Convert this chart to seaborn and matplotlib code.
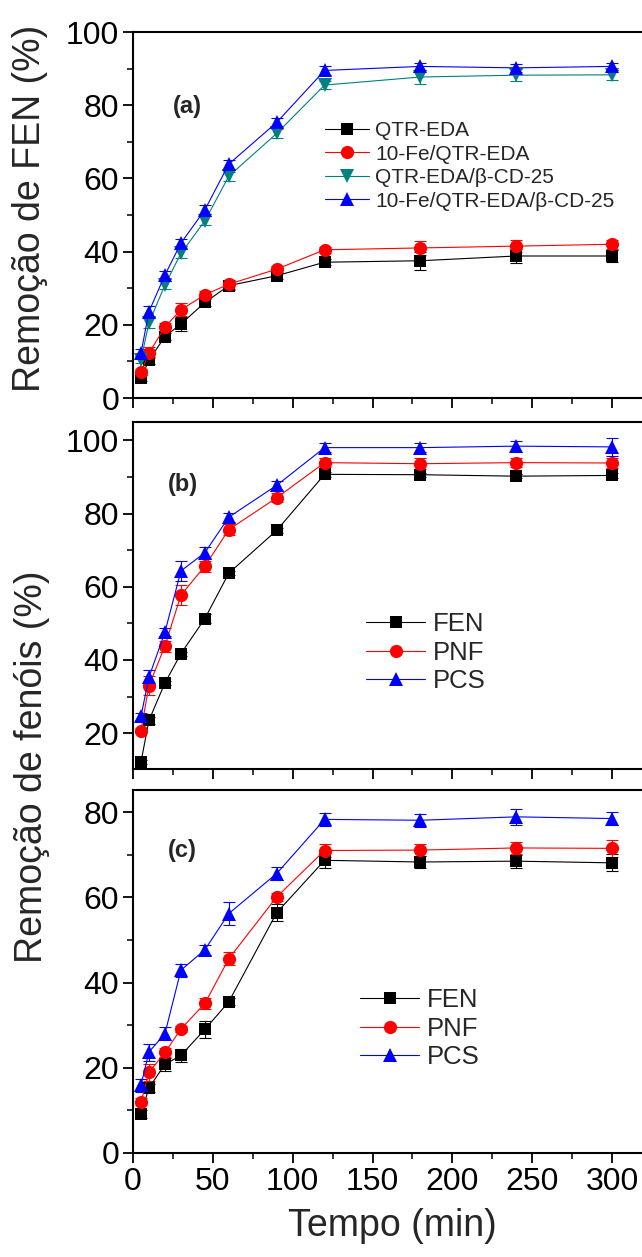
import numpy as np
import pandas as pd
import matplotlib
matplotlib.use("Agg")
import matplotlib.pyplot as plt
import seaborn as sns
from matplotlib.ticker import MultipleLocator

sns.set_theme(style="ticks")
plt.rcParams["font.family"] = ["Liberation Sans", "DejaVu Sans"]

# ---------------- data ----------------
time = [5, 10, 20, 30, 45, 60, 90, 120, 180, 240, 300]

# panel (a)
a_labels = ["QTR-EDA", "10-Fe/QTR-EDA", "QTR-EDA/β-CD-25", "10-Fe/QTR-EDA/β-CD-25"]
a_qtr = [5.5, 10.3, 16.8, 20.2, 26.1, 30.7, 33.4, 37.1, 37.5, 38.8, 38.8]
a_fe = [7.0, 12.3, 19.4, 24.1, 28.2, 31.1, 35.2, 40.5, 41.0, 41.5, 42.0]
a_cd = [10.5, 20.5, 30.9, 39.5, 48.4, 60.6, 72.3, 85.5, 87.7, 88.2, 88.3]
a_fecd = [12.3, 23.6, 33.6, 42.3, 51.4, 63.9, 75.3, 89.5, 90.6, 90.2, 90.6]
a_qtr_err = [0.8, 1.0, 1.0, 1.8, 1.0, 1.2, 0.8, 0.8, 2.5, 1.8, 1.6]
a_fe_err = [0.8, 1.5, 1.0, 1.8, 1.0, 1.2, 0.8, 0.8, 1.8, 1.6, 1.2]
a_cd_err = [1.0, 1.5, 1.2, 1.2, 1.2, 1.2, 1.2, 1.0, 1.8, 1.6, 1.4]
a_fecd_err = [1.2, 1.5, 1.2, 1.2, 1.2, 1.2, 1.2, 1.2, 1.0, 1.0, 1.0]

# panel (b)
bc_labels = ["FEN", "PNF", "PCS"]
b_fen = [12.1, 23.5, 33.7, 41.7, 51.3, 63.7, 75.4, 90.7, 90.6, 90.2, 90.4]
b_pnf = [20.7, 33.0, 43.8, 57.7, 65.6, 75.6, 84.3, 93.9, 93.6, 93.9, 93.8]
b_pcs = [24.6, 35.3, 47.6, 64.3, 69.3, 79.0, 87.7, 98.0, 98.0, 98.4, 98.2]
b_fen_err = [0.5, 1.0, 0.6, 0.6, 1.2, 0.6, 0.6, 0.6, 0.6, 0.6, 0.6]
b_pnf_err = [0.6, 2.5, 1.5, 2.8, 1.5, 1.5, 1.2, 1.2, 1.5, 1.2, 1.5]
b_pcs_err = [1.0, 2.0, 1.0, 2.8, 1.5, 1.2, 1.2, 1.2, 1.2, 1.5, 2.5]

# panel (c)
c_fen = [9.1, 15.3, 20.8, 22.9, 29.0, 35.5, 56.4, 68.7, 68.3, 68.5, 68.1]
c_pnf = [12.0, 18.9, 23.6, 29.1, 35.1, 45.6, 60.1, 71.0, 71.1, 71.6, 71.5]
c_pcs = [15.9, 23.7, 28.0, 42.9, 47.7, 56.2, 65.6, 78.3, 78.1, 78.9, 78.5]
c_fen_err = [1.0, 1.0, 1.5, 1.5, 2.0, 0.8, 2.0, 1.8, 1.5, 1.5, 2.0]
c_pnf_err = [0.8, 2.0, 1.0, 0.8, 1.2, 1.5, 1.0, 1.5, 1.5, 1.5, 2.0]
c_pcs_err = [1.5, 2.0, 1.5, 1.5, 1.2, 2.8, 1.5, 1.5, 1.5, 1.8, 1.5]

# ---------------- figure ----------------
W, H = 642, 1257
fig = plt.figure(figsize=(W / 100, H / 100), dpi=100)

x0 = 133
ppu = (612 - 133) / 300.0
xmax = 325


def axes_px(top, bottom):
    return fig.add_axes([x0 / W, 1 - bottom / H, (xmax * ppu) / W, (bottom - top) / H])


ax_a = axes_px(32, 398)
ax_b = axes_px(422, 769)
ax_c = axes_px(790, 1153)

styles = {
    "black": dict(color="black", marker="s", ms=8.5),
    "red": dict(color="#ff0000", marker="o", ms=9.5),
    "teal": dict(color="#008080", marker="v", ms=10.5),
    "blue": dict(color="#0000ff", marker="^", ms=10.5),
}


def draw(ax, y, err, label, key):
    st = styles[key]
    ax.errorbar(time, y, yerr=err, fmt="none", ecolor=st["color"],
                elinewidth=0.8, capsize=4.5, capthick=0.8, zorder=2)
    sns.lineplot(x=time, y=y, ax=ax, color=st["color"], marker=st["marker"],
                 markersize=st["ms"], markeredgewidth=0, linewidth=0.8,
                 label=label, zorder=3)


draw(ax_a, a_qtr, a_qtr_err, a_labels[0], "black")
draw(ax_a, a_fe, a_fe_err, a_labels[1], "red")
draw(ax_a, a_cd, a_cd_err, a_labels[2], "teal")
draw(ax_a, a_fecd, a_fecd_err, a_labels[3], "blue")

draw(ax_b, b_fen, b_fen_err, bc_labels[0], "black")
draw(ax_b, b_pnf, b_pnf_err, bc_labels[1], "red")
draw(ax_b, b_pcs, b_pcs_err, bc_labels[2], "blue")

draw(ax_c, c_fen, c_fen_err, bc_labels[0], "black")
draw(ax_c, c_pnf, c_pnf_err, bc_labels[1], "red")
draw(ax_c, c_pcs, c_pcs_err, bc_labels[2], "blue")

ax_a.set_ylim(0, 100)
ax_b.set_ylim(10.2, 105)
ax_c.set_ylim(0, 85.2)

for ax in (ax_a, ax_b, ax_c):
    ax.set_xlim(0, xmax)
    ax.xaxis.set_major_locator(MultipleLocator(50))
    ax.xaxis.set_minor_locator(MultipleLocator(25))
    ax.yaxis.set_major_locator(MultipleLocator(20))
    ax.yaxis.set_minor_locator(MultipleLocator(10))
    ax.tick_params(which="major", direction="out", length=7, width=1.3,
                   labelsize=23, pad=3, color="black", labelcolor="black")
    ax.tick_params(which="minor", direction="out", length=4, width=1.1, color="black")
    for s in ax.spines.values():
        s.set_linewidth(1.5)
        s.set_color("black")
    ax.set_xlabel("")
    ax.set_ylabel("")
    ax.set_facecolor("white")

ax_a.tick_params(axis="x", labelbottom=False)
ax_b.tick_params(axis="x", labelbottom=False)
ax_c.set_xlabel("Tempo (min)", fontsize=27, labelpad=8)

# panel labels
fig.text(187 / W, 1 - 106 / H, "(a)", fontsize=17, fontweight="bold", ha="center", va="center")
fig.text(183 / W, 1 - 484 / H, "(b)", fontsize=17, fontweight="bold", ha="center", va="center")
fig.text(182 / W, 1 - 851 / H, "(c)", fontsize=17, fontweight="bold", ha="center", va="center")

# y labels
fig.text(30 / W, 1 - 208 / H, "Remoção de FEN (%)", fontsize=27, rotation=90,
         ha="center", va="center")
fig.text(32 / W, 1 - 767 / H, "Remoção de fenóis (%)", fontsize=27, rotation=90,
         ha="center", va="center")

# legends
def put_legend(ax, left, top, fs, hl, ls):
    h, l = ax.get_legend_handles_labels()
    ax.legend(h, l, loc="upper left", bbox_to_anchor=(left / W, 1 - top / H),
              bbox_transform=fig.transFigure, frameon=False, fontsize=fs,
              handlelength=hl, handletextpad=0.3, labelspacing=ls,
              borderpad=0, borderaxespad=0, numpoints=1)


put_legend(ax_a, 325, 121, 15, 2.1, 0.22)
put_legend(ax_b, 366, 612, 18.5, 2.3, 0.18)
put_legend(ax_c, 360, 988, 18.5, 2.3, 0.18)

fig.savefig("out.png", dpi=100, facecolor="white")
